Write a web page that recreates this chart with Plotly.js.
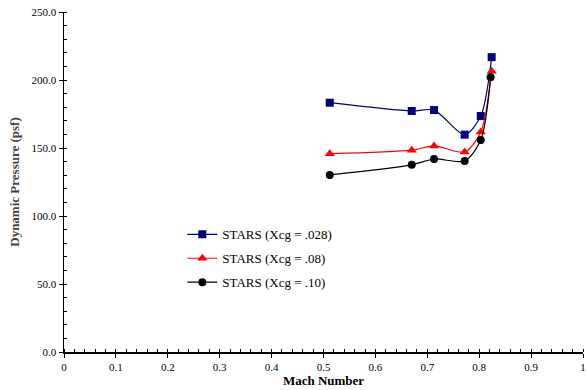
<!DOCTYPE html>
<html><head><meta charset="utf-8">
<script src="https://cdn.plot.ly/plotly-3.0.1.min.js"></script>
<style>html,body{margin:0;padding:0;background:#fff}#chart{width:587px;height:390px}</style>
</head><body><div id="chart"></div>
<script>
const mach = [0.512, 0.670, 0.713, 0.772, 0.803, 0.824];
const machBlack = [0.512, 0.670, 0.713, 0.772, 0.803, 0.822];
const xcg028 = [183.3, 177.2, 177.9, 159.8, 173.5, 216.8];
const xcg08 = [145.8, 148.4, 151.5, 147.1, 161.8, 206.4];
const xcg10 = [130.2, 137.6, 141.9, 140.5, 155.9, 202.1];
const names = ['STARS (Xcg = .028)', 'STARS (Xcg = .08)', 'STARS (Xcg = .10)'];

const font = '"Times New Roman", "Liberation Serif", serif';
const traces = [
  {x: mach, y: xcg028, name: names[0], legendgroup: 'a', mode: 'lines+markers', type: 'scatter',
   line: {color: '#000080', width: 1.2, shape: 'spline', smoothing: 0.8},
   marker: {symbol: 'square', size: 8, color: '#000080'}},
  {x: mach, y: xcg08, name: names[1], legendgroup: 'b', mode: 'lines+markers', type: 'scatter',
   line: {color: '#ff0000', width: 1.2, shape: 'spline', smoothing: 0.8},
   marker: {symbol: 'triangle-up', size: 9, color: '#ff0000'}},
  {x: machBlack, y: xcg10, name: names[2], legendgroup: 'c', mode: 'lines+markers', type: 'scatter',
   line: {color: '#000000', width: 1.2, shape: 'spline', smoothing: 0.8},
   marker: {symbol: 'circle', size: 8, color: '#000000'}}
];
const layout = {
  width: 587, height: 390,
  margin: {l: 64, r: 4, t: 12, b: 38},
  paper_bgcolor: '#fff', plot_bgcolor: '#fff',
  font: {family: font, size: 11, color: '#000'},
  showlegend: true,
  legend: {x: 0.228, y: 0.39, xanchor: 'left', yanchor: 'top', bgcolor: 'rgba(0,0,0,0)',
           traceorder: 'grouped', tracegroupgap: 4,
           font: {family: font, size: 13, color: '#000'}, itemwidth: 30},
  xaxis: {range: [0, 1], dtick: 0.1, tick0: 0, showgrid: false, zeroline: false,
          showline: true, linecolor: '#000', linewidth: 1.5, ticks: 'outside', ticklen: 4, tickcolor: '#000',
          minor: {dtick: 0.02, ticks: 'inside', ticklen: 3, tickcolor: '#000', showgrid: false},
          tickfont: {family: font, size: 11}, fixedrange: true, ticklabeloverflow: 'allow',
          title: {text: '<b>Mach Number</b>', font: {family: font, size: 13}, standoff: 4}},
  yaxis: {range: [0, 250], dtick: 50, tickformat: '.1f', showgrid: false, zeroline: false,
          showline: true, linecolor: '#000', linewidth: 1.5, ticks: 'outside', ticklen: 4, tickcolor: '#000',
          minor: {dtick: 10, ticks: 'inside', ticklen: 3, tickcolor: '#000', showgrid: false},
          tickfont: {family: font, size: 11}, fixedrange: true,
          title: {text: '<b>Dynamic Pressure (psf)</b>', font: {family: font, size: 13, color: '#444'}, standoff: 9}}
};
Plotly.newPlot('chart', traces, layout, {displayModeBar: false, staticPlot: true});
</script></body></html>
